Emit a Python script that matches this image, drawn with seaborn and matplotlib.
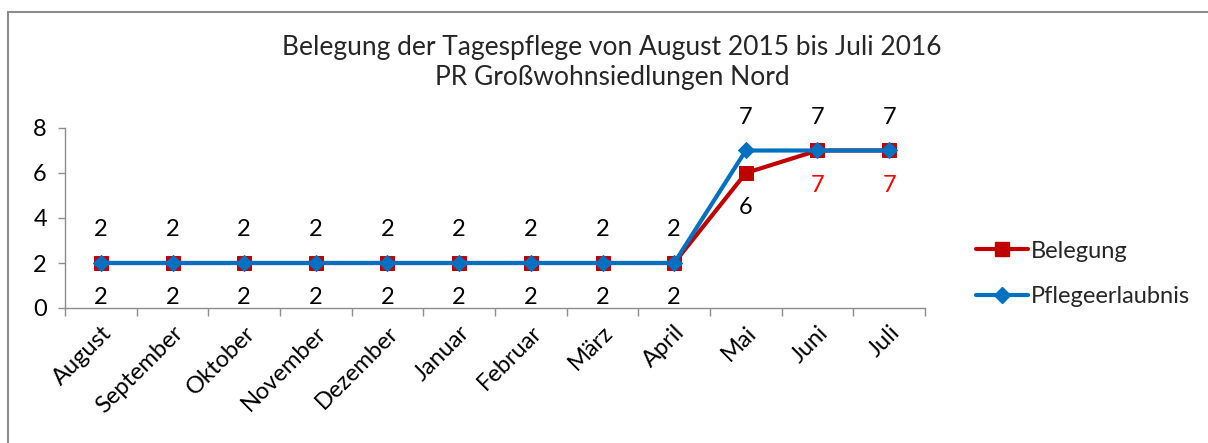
import matplotlib
matplotlib.use('Agg')
import matplotlib.pyplot as plt
import seaborn as sns
import pandas as pd
from matplotlib.patches import Rectangle
from matplotlib.lines import Line2D

months = ['August', 'September', 'Oktober', 'November', 'Dezember', 'Januar',
          'Februar', 'März', 'April', 'Mai', 'Juni', 'Juli']
belegung = [2, 2, 2, 2, 2, 2, 2, 2, 2, 6, 7, 7]
pflegeerlaubnis = [2, 2, 2, 2, 2, 2, 2, 2, 2, 7, 7, 7]
belegung_label_colors = ['black'] * 10 + ['#FF0000', '#FF0000']

red = '#C00000'
blue = '#0070C0'
fs = 17

sns.set_style('white')
plt.rcParams['font.family'] = ['Lato', 'DejaVu Sans']

fig = plt.figure(figsize=(12.08, 4.43), dpi=100)
ax = fig.add_axes([65 / 1208, 1 - 308 / 443, 860 / 1208, 180 / 443])

# grey frame around the chart area
fig.patches.append(Rectangle((8 / 1208, -0.1), 1.2, 1 - 12 / 443 + 0.1,
                             transform=fig.transFigure, fill=False,
                             edgecolor='#8C8C8C', linewidth=1.5))

df = pd.DataFrame({'Monat': months, 'Belegung': belegung,
                   'Pflegeerlaubnis': pflegeerlaubnis})

sns.lineplot(data=df, x='Monat', y='Belegung', ax=ax, color=red, linewidth=3,
             marker='s', markersize=10, markeredgecolor=red, sort=False)
sns.lineplot(data=df, x='Monat', y='Pflegeerlaubnis', ax=ax, color=blue,
             linewidth=3, marker='D', markersize=8, markeredgecolor=blue,
             sort=False)

# data labels: Belegung below, Pflegeerlaubnis above
for i, (b, p) in enumerate(zip(belegung, pflegeerlaubnis)):
    ax.annotate(str(p), (i, p), xytext=(0, 24), textcoords='offset points',
                ha='center', va='center', fontsize=fs, color='black')
    ax.annotate(str(b), (i, b), xytext=(0, -25), textcoords='offset points',
                ha='center', va='center', fontsize=fs,
                color=belegung_label_colors[i])

ax.set_xlim(-0.5, len(months) - 0.5)
ax.set_ylim(0, 8)
ax.set_yticks([0, 2, 4, 6, 8])
ax.set_xticks(range(len(months)))
ax.set_xticklabels(months, rotation=45, ha='right', rotation_mode='anchor',
                   fontsize=fs)
ax.tick_params(axis='y', labelsize=fs, length=5, color='#8C8C8C', width=1,
               left=True, pad=8, labelcolor='black')
ax.tick_params(axis='x', which='major', length=0, pad=10, labelcolor='black')
ax.set_xticks([x - 0.5 for x in range(len(months) + 1)], minor=True)
ax.tick_params(axis='x', which='minor', length=6, color='#8C8C8C', width=1,
               bottom=True)
ax.set_xlabel('')
ax.set_ylabel('')

for s in ['top', 'right']:
    ax.spines[s].set_visible(False)
for s in ['left', 'bottom']:
    ax.spines[s].set_color('#8C8C8C')
    ax.spines[s].set_linewidth(1)

fig.text(612 / 1208, 1 - 48 / 443, 'Belegung der Tagespflege von August 2015 bis Juli 2016',
         ha='center', va='center', fontsize=19)
fig.text(612 / 1208, 1 - 78 / 443, 'PR Großwohnsiedlungen Nord',
         ha='center', va='center', fontsize=19)

handles = [Line2D([], [], color=red, linewidth=3, marker='s', markersize=10),
           Line2D([], [], color=blue, linewidth=3, marker='D', markersize=8)]
fig.legend(handles, ['Belegung', 'Pflegeerlaubnis'], loc='center left',
           bbox_to_anchor=(955 / 1208, 1 - 274 / 443), frameon=False,
           fontsize=fs, handlelength=2.2, handletextpad=0.1, labelspacing=1.05)

fig.savefig('out.png', dpi=100, facecolor='white')
